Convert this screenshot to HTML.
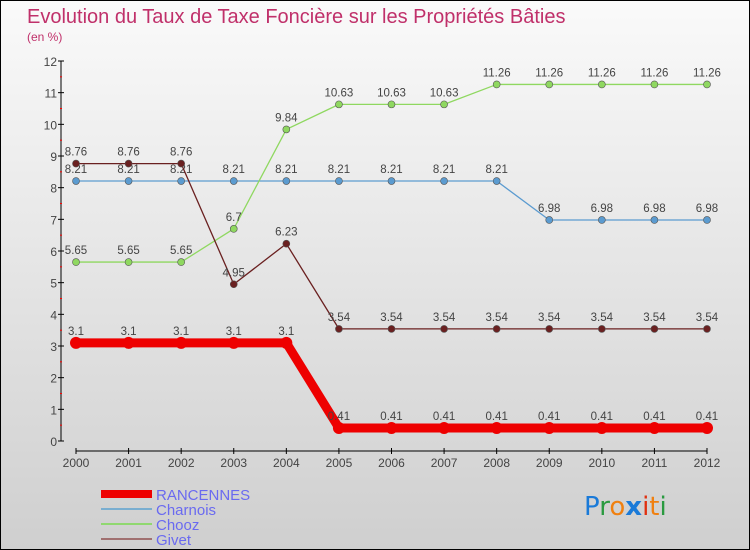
<!DOCTYPE html>
<html><head><meta charset="utf-8"><style>
body{margin:0}
#c{width:748px;height:548px;border:1px solid #000;background:linear-gradient(#fafafa,#cfcfcf);position:relative;font-family:"Liberation Sans",sans-serif;overflow:hidden}
svg{position:absolute;left:0;top:0}
</style></head><body>
<div id="c">
<svg id="s" width="750" height="550">
<text x="26" y="22" font-size="20" fill="#c0306a">Evolution du Taux de Taxe Foncière sur les Propriétés Bâties</text>
<text x="26" y="40" font-size="12" fill="#c0306a">(en %)</text>
<g id="g"></g>
<g>
<rect x="100" y="489" width="51" height="8" fill="#e00"/>
<text x="155" y="499" font-size="15" fill="#6a6af0">RANCENNES</text>
<rect x="100" y="507" width="51" height="2" fill="#7aaed0"/>
<text x="155" y="514" font-size="15" fill="#6a6af0">Charnois</text>
<rect x="100" y="522" width="51" height="2" fill="#90d870"/>
<text x="155" y="529" font-size="15" fill="#6a6af0">Chooz</text>
<rect x="100" y="537" width="51" height="2" fill="#a07070"/>
<text x="155" y="544" font-size="15" fill="#6a6af0">Givet</text>
</g>
<text x="583" y="514" font-size="26" font-family="DejaVu Sans"><tspan fill="#1a7ad8">P</tspan><tspan fill="#2a9a40">r</tspan><tspan fill="#f08010">o</tspan><tspan fill="#1a7ad8" font-weight="bold">x</tspan><tspan fill="#e03010">i</tspan><tspan fill="#f08010">t</tspan><tspan fill="#2a9a40">i</tspan></text>
</svg></div>
<script>
const years=[2000,2001,2002,2003,2004,2005,2006,2007,2008,2009,2010,2011,2012];
const yTicks=[0,1,2,3,4,5,6,7,8,9,10,11,12];
const rancennes=[3.1,3.1,3.1,3.1,3.1,0.41,0.41,0.41,0.41,0.41,0.41,0.41,0.41];
const charnois=[8.21,8.21,8.21,8.21,8.21,8.21,8.21,8.21,8.21,6.98,6.98,6.98,6.98];
const chooz=[5.65,5.65,5.65,6.7,9.84,10.63,10.63,10.63,11.26,11.26,11.26,11.26,11.26];
const givet=[8.76,8.76,8.76,4.95,6.23,3.54,3.54,3.54,3.54,3.54,3.54,3.54,3.54];
const NS="http://www.w3.org/2000/svg",g=document.getElementById('g');
const X=i=>75+i*(631/12), Y=v=>440-v*(380/12);
function el(t,a,name){const e=document.createElementNS(NS,t);for(const k in a)e.setAttribute(k,a[k]);


g.appendChild(e);return e;}
el('line',{x1:60,y1:60,x2:60,y2:440,stroke:'#000','stroke-width':1},'y-axis');
yTicks.forEach(v=>{el('line',{x1:57,x2:63,y1:Y(v),y2:Y(v),stroke:'#000'},'y-tick');
if(v<12)el('line',{x1:59,x2:61,y1:Y(v+0.5),y2:Y(v+0.5),stroke:'#f00'},'y-minor-tick');
const t=el('text',{x:56,y:Y(v)+5,'font-size':12,fill:'#444','text-anchor':'end'},'y-tick-label');t.textContent=v;});
el('line',{x1:75,y1:450,x2:706,y2:450,stroke:'#000'},'x-axis');
years.forEach((y,i)=>{el('line',{x1:X(i),x2:X(i),y1:447,y2:453,stroke:'#000'},'x-tick');
const t=el('text',{x:X(i),y:466,'font-size':12,fill:'#444','text-anchor':'middle'},'x-tick-label');t.textContent=y;});
function series(d,color,w,r,name,lab){
el('polyline',{points:d.map((v,i)=>X(i)+','+Y(v)).join(' '),fill:'none',stroke:color,'stroke-width':w,'stroke-linejoin':'round'},name+'-line');
d.forEach((v,i)=>{el('circle',{cx:X(i),cy:Y(v),r:r,fill:color,stroke:w>3?'none':'#555','stroke-width':0.6},name+'-point');
if(lab){const t=el('text',{x:X(i),y:Y(v)-8,'font-size':11.5,fill:'#444','text-anchor':'middle'},name+'-value-label');t.textContent=v;}});}
series(charnois,'#5b9bd0',1.3,3.5,'charnois',true);
series(chooz,'#8fd860',1.3,3.5,'chooz',true);
series(givet,'#6a2020',1.3,3.5,'givet',true);
series(rancennes,'#ee0000',9,6,'rancennes',true);
</script>
</body></html>
